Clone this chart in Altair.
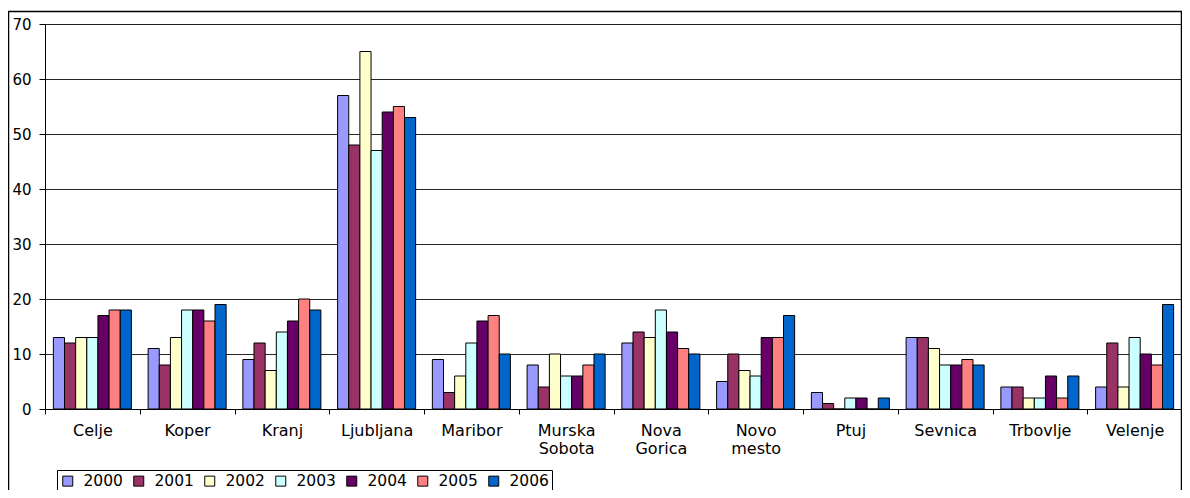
import altair as alt
import pandas as pd

cities = ["Celje", "Koper", "Kranj", "Ljubljana", "Maribor", "Murska Sobota",
          "Nova Gorica", "Novo mesto", "Ptuj", "Sevnica", "Trbovlje", "Velenje"]
years = ["2000", "2001", "2002", "2003", "2004", "2005", "2006"]

v2000 = [13, 11, 9, 57, 9, 8, 12, 5, 3, 13, 4, 4]
v2001 = [12, 8, 12, 48, 3, 4, 14, 10, 1, 13, 4, 12]
v2002 = [13, 13, 7, 65, 6, 10, 13, 7, 0, 11, 2, 4]
v2003 = [13, 18, 14, 47, 12, 6, 18, 6, 2, 8, 2, 13]
v2004 = [17, 18, 16, 54, 16, 6, 14, 13, 2, 8, 6, 10]
v2005 = [18, 16, 20, 55, 17, 8, 11, 13, 0, 9, 2, 8]
v2006 = [18, 19, 18, 53, 10, 10, 10, 17, 2, 8, 6, 19]

colors = ["#9999FF", "#993366", "#FFFFCC", "#CCFFFF", "#660066", "#FF8080", "#0066CC"]
y_ticks = [0, 10, 20, 30, 40, 50, 60, 70]

series = [v2000, v2001, v2002, v2003, v2004, v2005, v2006]
rows = []
for yr, vals in zip(years, series):
    for c, v in zip(cities, vals):
        rows.append({"city": c, "year": yr, "value": v})
df = pd.DataFrame(rows)

W, H = 1137, 385
FONT = "DejaVu Sans"

bars = alt.Chart(df).mark_bar(stroke="black", strokeWidth=1, opacity=1).encode(
    x=alt.X("city:N", sort=cities,
            scale=alt.Scale(paddingInner=0, paddingOuter=0),
            axis=alt.Axis(title=None, labelAngle=0, tickBand="extent",
                          labelExpr="split(datum.label, ' ')",
                          labelLineHeight=18, labelFontSize=16, labelFont=FONT,
                          labelColor="black", tickSize=5, tickColor="black",
                          domainColor="black", labelPadding=8, grid=False)),
    xOffset=alt.XOffset("year:N", sort=years,
                        scale=alt.Scale(paddingInner=0, paddingOuter=0.75)),
    y=alt.Y("value:Q", scale=alt.Scale(domain=[0, 70], nice=False),
            axis=alt.Axis(title=None, values=y_ticks, grid=True, gridColor="black",
                          gridWidth=1, gridOpacity=0.85, labelFontSize=15, labelFont=FONT,
                          labelColor="black", tickSize=6, tickColor="black",
                          domainColor="black", labelPadding=8)),
    color=alt.Color("year:N", sort=years,
                    scale=alt.Scale(domain=years, range=colors),
                    legend=alt.Legend(title=None, orient="none", legendX=12, legendY=446,
                                      direction="horizontal", columns=7,
                                      symbolType="square", symbolSize=100,
                                      symbolStrokeColor="black", symbolStrokeWidth=1,
                                      symbolOpacity=1,
                                      labelFontSize=15.5, labelFont=FONT, labelColor="black",
                                      labelOffset=8, columnPadding=8, padding=3,
                                      strokeColor="black", fillColor="white")),
)

frame = alt.Chart(pd.DataFrame({"f": [0]})).mark_rect(
    fill="white", fillOpacity=0, stroke="black", strokeWidth=1.5, clip=False
).encode(
    x=alt.value(-36.5), x2=alt.value(W - 0.5),
    y=alt.value(-12.5), y2=alt.value(H + 200),
)

chart = alt.layer(frame, bars).properties(
    width=W, height=H,
    autosize=alt.AutoSizeParams(type="none"),
    padding={"left": 37, "top": 16, "right": 0, "bottom": 81},
).configure_view(stroke=None).configure(background="white")

chart.save("out.html", embed_options={"renderer": "svg", "actions": False})
